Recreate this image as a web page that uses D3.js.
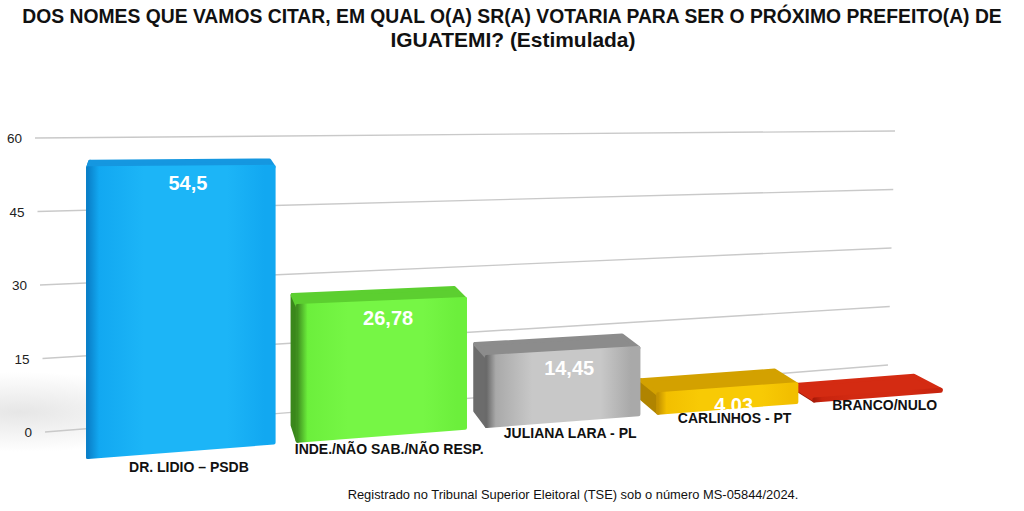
<!DOCTYPE html>
<html>
<head>
<meta charset="utf-8">
<script src="https://cdn.jsdelivr.net/npm/d3@7"></script>
<style>
  html, body { margin: 0; padding: 0; background: #fff; }
  svg { display: block; font-family: "Liberation Sans", Arial, sans-serif; }
</style>
</head>
<body>
<div id="chart"></div>
<script>
const categories = ['DR. LIDIO – PSDB', 'INDE./NÃO SAB./NÃO RESP.', 'JULIANA LARA - PL', 'CARLINHOS - PT', 'BRANCO/NULO'];
const values = [54.5, 26.78, 14.45, 4.03, 0.24];
const valueLabels = ['54,5', '26,78', '14,45', '4,03', ''];
const ticks = [0, 15, 30, 45, 60];
const palette = [
  { dark: '#0a80c9', main: '#12a8f1', light: '#1cb5f7', top: '#1597e0', side: '#0a76bd' },
  { dark: '#3f8f1f', main: '#6cef3c', light: '#76f645', top: '#5ccf30', side: '#3a871b' },
  { dark: '#6a6a6a', main: '#a9a9a9', light: '#c8c8c8', top: '#8c8c8c', side: '#6c6c6c' },
  { dark: '#c59300', main: '#f2bf00', light: '#f8ca05', top: '#d3a100', side: '#b08400' },
  { dark: '#a81a08', main: '#c8240e', light: '#d22a12', top: '#d42b12', side: '#9a1a08' }
];

const width = 1024, height = 511;
const svg = d3.select('#chart').append('svg')
  .attr('width', width)
  .attr('height', height);
const defs = svg.append('defs');

// soft floor shadow at the left
const shade = defs.append('radialGradient').attr('id', 'floorShade');
shade.append('stop').attr('offset', '0%').attr('stop-color', '#e6e6e6');
shade.append('stop').attr('offset', '100%').attr('stop-color', '#ffffff');
svg.append('ellipse')
  .attr('cx', 20).attr('cy', 412).attr('rx', 170).attr('ry', 40)
  .attr('fill', 'url(#floorShade)');

// back wall: gridlines in perspective
const value = d3.scaleLinear().domain([0, 60]);
const yLeft = value.copy().range([432, 138]);
const yRight = value.copy().range([365, 131]);
const xLeft = value.copy().range([45, 35]);
const xRight = value.copy().range([888, 895]);

svg.append('g').selectAll('line')
  .data(ticks)
  .enter()
  .append('line')
  .attr('x1', d => xLeft(d))
  .attr('y1', d => yLeft(d))
  .attr('x2', d => xRight(d))
  .attr('y2', d => yRight(d))
  .attr('stroke', '#c9c9c9')
  .attr('stroke-width', 1.4);

svg.append('g').selectAll('text')
  .data(ticks)
  .enter()
  .append('text')
  .attr('x', d => xLeft(d) - 13)
  .attr('y', d => yLeft(d) + 5)
  .attr('text-anchor', 'end')
  .attr('font-size', '13.5px')
  .attr('fill', '#222')
  .text(d => d);

// bars: projective mapping along the category axis
const VP = [4164, 140];
const origin = [88, 457];
const C = 3.78;
const barHeight = value.copy().range([0, 318]);
const band = d3.scaleBand().domain(categories).range([0, 1]).paddingInner(0.12);
const DV = [150, -20];
const S = 0.034;

const lam = t => t / (t + C);
function front(t, v) {
  const l = lam(t);
  return [
    origin[0] + l * (VP[0] - origin[0]),
    origin[1] + l * (VP[1] - origin[1]) - barHeight(v) * (1 - l)
  ];
}
const back = p => [p[0] - S * (p[0] - DV[0]), p[1] - S * (p[1] - DV[1])];
const poly = pts => 'M' + pts.map(p => p.join(',')).join('L') + 'Z';

const bars = categories.map((c, i) => {
  const t0 = band(c), t1 = band(c) + band.bandwidth();
  const fl = front(t0, values[i]), fr = front(t1, values[i]);
  const bl = front(t0, 0), br = front(t1, 0);
  return { i, c, fl, fr, bl, br, tl: back(fl), tr: back(fr), sb: back(bl), tc: (t0 + t1) / 2 };
});

bars.forEach(b => {
  const p = palette[b.i];
  const g = defs.append('linearGradient').attr('id', 'front' + b.i)
    .attr('x1', '0%').attr('x2', '100%').attr('y1', '0%').attr('y2', '0%');
  [[0, p.dark], [0.06, p.main], [0.3, p.light], [0.75, p.light], [0.95, p.main], [1, p.main]]
    .forEach(s => g.append('stop').attr('offset', s[0]).attr('stop-color', s[1]));
});

const barG = svg.append('g');
bars.slice().reverse().forEach(b => {
  const p = palette[b.i];
  const g = barG.append('g')
    .attr('stroke-linejoin', 'round');
  // left side face
  g.append('path')
    .attr('d', poly([b.tl, b.fl, b.bl, b.sb]))
    .attr('fill', p.side).attr('stroke', p.side).attr('stroke-width', 4);
  // top face
  g.append('path')
    .attr('d', poly([b.fl, b.fr, b.tr, b.tl]))
    .attr('fill', p.top).attr('stroke', p.top).attr('stroke-width', 4);
  // front face
  g.append('path')
    .attr('d', poly([b.fl, b.fr, b.br, b.bl]))
    .attr('fill', `url(#front${b.i})`).attr('stroke', `url(#front${b.i})`).attr('stroke-width', 4);
});

// value labels on the bars
svg.append('g').selectAll('text')
  .data(bars.filter(b => valueLabels[b.i] !== ''))
  .enter()
  .append('text')
  .attr('x', b => front(b.tc, values[b.i])[0] + 5)
  .attr('y', b => front(b.tc, values[b.i])[1] + 23)
  .attr('text-anchor', 'middle')
  .attr('font-size', '20px')
  .attr('font-weight', 'bold')
  .attr('fill', '#fff')
  .text(b => valueLabels[b.i]);

// category labels in front of the bars
svg.append('g').selectAll('text')
  .data(bars)
  .enter()
  .append('text')
  .attr('x', b => front(b.tc, 0)[0] + 6)
  .attr('y', b => front(b.tc, 0)[1] + 24 - 50 * lam(b.tc))
  .attr('text-anchor', 'middle')
  .attr('font-size', '14px')
  .attr('font-weight', 'bold')
  .attr('fill', '#111')
  .text(b => b.c);

// title, squeezed horizontally to a condensed look
const titleLines = [
  { text: 'DOS NOMES QUE VAMOS CITAR, EM QUAL O(A) SR(A) VOTARIA PARA SER O PRÓXIMO PREFEITO(A) DE', x: 512, y: 23, w: 980 },
  { text: 'IGUATEMI? (Estimulada)', x: 513, y: 47, w: 245 }
];
titleLines.forEach(l => {
  const t = svg.append('text')
    .attr('font-weight', 'bold')
    .attr('font-size', '20px')
    .attr('fill', '#111')
    .attr('text-anchor', 'middle')
    .text(l.text);
  const natural = t.node().getComputedTextLength();
  t.attr('transform', `translate(${l.x},${l.y}) scale(${l.w / natural},1)`);
});

svg.append('text')
  .attr('x', 573).attr('y', 499)
  .attr('text-anchor', 'middle')
  .attr('font-size', '12.9px')
  .attr('fill', '#111')
  .text('Registrado no Tribunal Superior Eleitoral (TSE) sob o número MS-05844/2024.');
</script>
</body>
</html>
